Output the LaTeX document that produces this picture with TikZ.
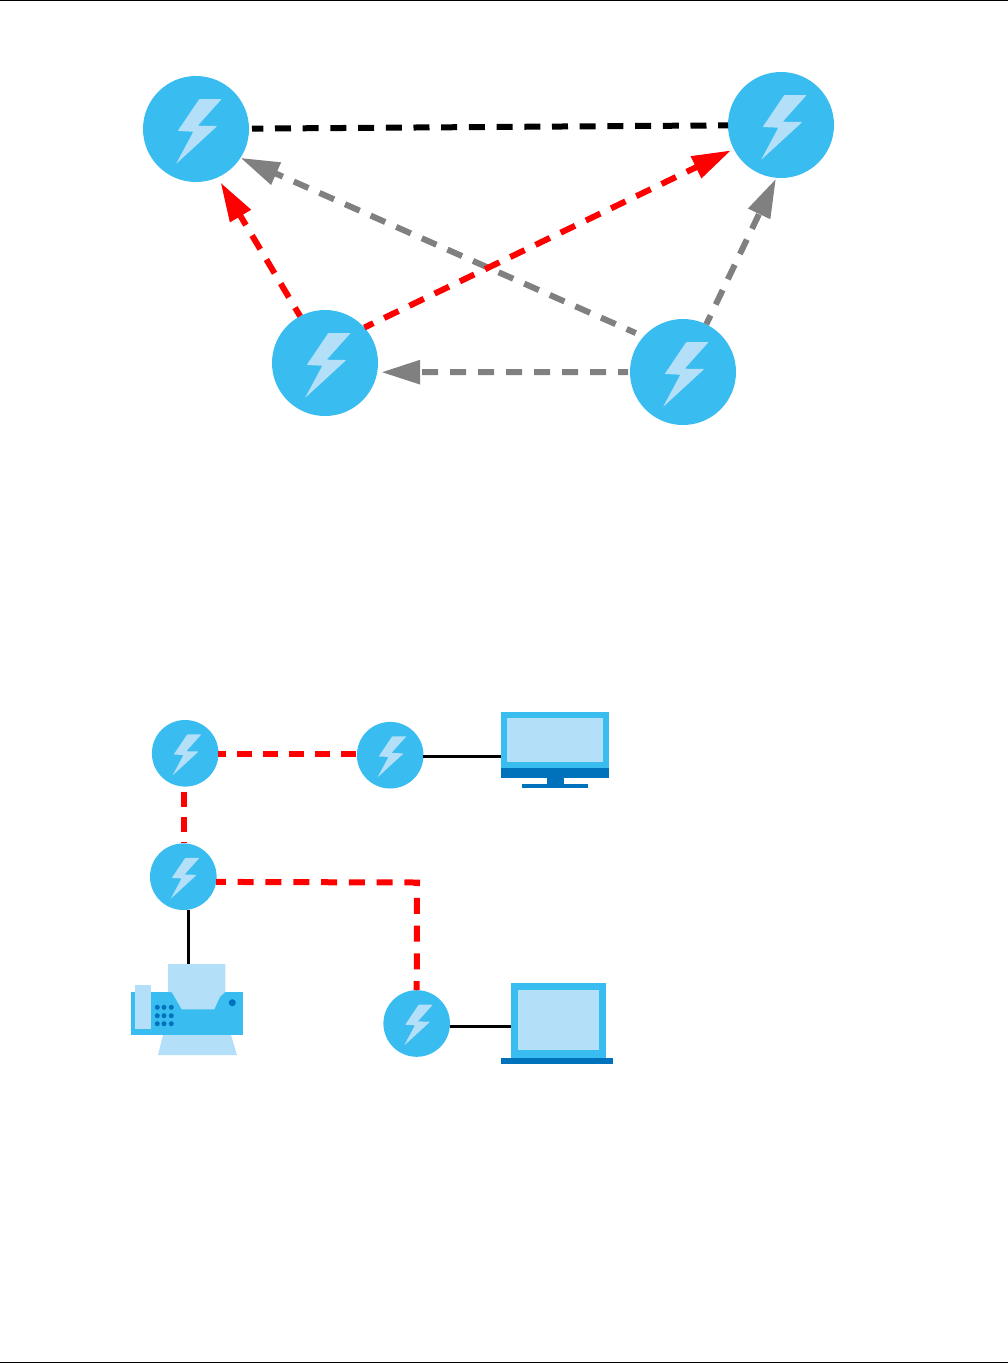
\documentclass[tikz,border=0pt]{standalone}
\usetikzlibrary{arrows.meta}
\definecolor{skyb}{HTML}{39BDF0}
\definecolor{pale}{HTML}{B3DFF8}
\definecolor{deep}{HTML}{0072BC}
\definecolor{midgray}{HTML}{808080}
\tikzset{
  x=1pt,y=-1pt,
  bignode/.style={circle,fill=skyb,inner sep=0pt,outer sep=0pt,minimum size=106pt},
  smallnode/.style={circle,fill=skyb,inner sep=0pt,outer sep=0pt,minimum size=66.6pt},
  iconbox/.style={rectangle,inner sep=0pt,outer sep=0pt,anchor=north west},
  wire/.style={line width=6pt,dash pattern=on 16pt off 12pt,dash phase=6pt},
  redwire/.style={wire,draw=red},
  graywire/.style={wire,draw=midgray},
  blackwire/.style={wire,draw=black,dash pattern=on 16pt off 11.7pt,dash phase=4.7pt},
  solidwire/.style={line width=3.2pt,draw=black},
  redtip/.style={-{Triangle[length=39pt,width=23pt,fill=red]}},
  graytip/.style={-{Triangle[length=39pt,width=23pt,fill=midgray]}},
  pics/bolt/.style={code={
    \fill[pale,rounded corners=0.8pt] (3.3,-30) -- (25.7,-30) -- (1.7,-3.3) -- (21.3,-3) -- (-20,35) -- (-2.7,2.7) -- (-18.3,2) -- cycle;
  }},
}
\begin{document}
\begin{tikzpicture}
\useasboundingbox (0,0) rectangle (1008,1363);
\fill[white] (0,0) rectangle (1008,1363);
% page rules
\fill[black] (0,0) rectangle (1008,1);
\fill[black] (0,1362) rectangle (1008,1363);

% upper group
\node[bignode] (a) at (196,129) {};
\node[bignode] (b) at (781,125) {};
\node[bignode] (c) at (325,363) {};
\node[bignode] (d) at (683,372) {};
\foreach \n in {a,b,c,d} \pic at (\n) {bolt};

\draw[blackwire,shorten <=3pt] (a) -- (b);
\draw[graywire,graytip,shorten <=8.6pt] (d.138.3) -- (a.-33);
\draw[redwire,redtip,shorten >=6pt] (c.118) -- (a.-66);
\draw[redwire,redtip,shorten >=3pt] (c.42) -- (b.207.4);
\draw[graywire,graytip,shorten >=1pt] (d.64.4) -- (b.265.8);
\draw[graywire,graytip,shorten <=2pt,shorten >=4pt] (d.180) -- (c.-10);

% lower group
\node[smallnode] (s1) at (185.2,753.3) {};
\node[smallnode] (s2) at (390.2,755.2) {};
\node[smallnode] (s3) at (183.3,876.7) {};
\node[smallnode] (s4) at (416.7,1023.5) {};
\foreach \n in {s1,s2,s3,s4} \pic[scale=0.632] at (\n) {bolt};

% monitor
\node[iconbox,fill=skyb,minimum width=108pt,minimum height=56pt] (mon) at (501,712) {};
\fill[pale] (507,718) rectangle (603,762);
\fill[deep] (501,768) rectangle (609,778);
\fill[deep] (547,778) rectangle (564,785);
\fill[deep] (522,784) rectangle (588,788);

% laptop
\node[iconbox,fill=skyb,minimum width=95pt,minimum height=75pt] (lap) at (511,983) {};
\fill[pale] (518,990) rectangle (599,1050);
\fill[deep] (501,1058) rectangle (613,1064);

% fax
\fill[pale] (163,1035) -- (231,1035) -- (237,1055) -- (158,1055) -- cycle;
\fill[skyb] (131,992) rectangle (243,1035);
\node[iconbox,minimum width=57pt,minimum height=1pt] (fax) at (168,964) {};
\fill[pale] (168,964) -- (225.3,964) -- (225.3,992) -- (220,996.7) -- (214.3,1009.3) -- (181.7,1009.3) -- (171.7,992) -- (168,992) -- cycle;
\fill[pale] (135,985) rectangle (151,1029);
\foreach \kx in {157.3,164,171.3} \foreach \ky in {1007.3,1015.7,1023.7}
  \fill[deep] (\kx,\ky) circle[radius=2.5];
\fill[deep] (232.3,1002.7) circle[radius=3.5];

% connectors
\coordinate (bend) at (417,882.5);
\draw[redwire,dash pattern=on 15pt off 11pt,dash phase=7pt] (s1.-1) -- (s1.-1 -| s2.west);
\draw[redwire,dash pattern=on 15pt off 10pt,dash phase=0pt,shorten <=5.4pt] (s1.-92) -- (s1.-92 |- s3.north);
\draw[redwire,line join=miter,dash pattern=on 16pt off 11.8pt,dash phase=6.3pt] (s3.-9.5) -- (bend) -- (s4.north);
\draw[solidwire] (s2.-2.6) -- (s2.-2.6 -| mon.west);
\draw[solidwire] (s3.-81) -- (s3.-81 |- fax.north);
\draw[solidwire] (s4.-5) -- (s4.-5 -| lap.west);
\end{tikzpicture}
\end{document}
